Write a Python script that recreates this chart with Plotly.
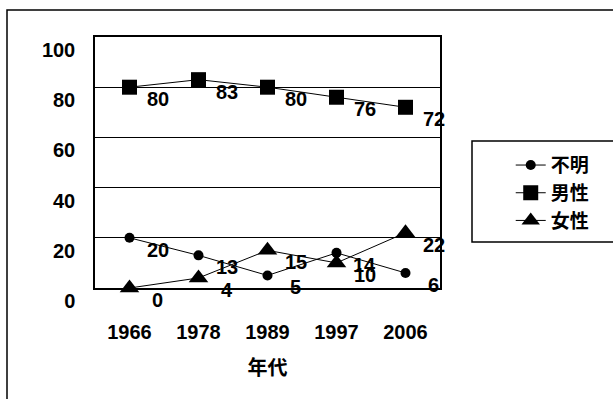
import plotly.graph_objects as go

years = ["1966", "1978", "1989", "1997", "2006"]
unknown = [20, 13, 5, 14, 6]
male = [80, 83, 80, 76, 72]
female = [0, 4, 15, 10, 22]
series_names = ["不明", "男性", "女性"]
y_ticks = [0, 20, 40, 60, 80, 100]

FONT = "Liberation Sans, Arial, Noto Sans CJK JP, sans-serif"
CJK = "Noto Sans CJK JP, sans-serif"

fig = go.Figure()
symbols = ["circle", "square", "triangle-up"]
sizes = [10, 15, 17]
all_series = [unknown, male, female]
for name, vals, sym, sz in zip(series_names, all_series, symbols, sizes):
    fig.add_trace(go.Scatter(
        x=years, y=vals, name=name, mode="lines+markers",
        line=dict(color="black", width=1),
        marker=dict(symbol=sym, size=sz, color="black"),
        cliponaxis=False,
    ))

annotations = []
for vals in all_series:
    for i, v in enumerate(vals):
        annotations.append(dict(
            x=i, y=v, xref="x", yref="y", text=str(v), showarrow=False,
            xshift=28, yshift=-12,
            font=dict(family=FONT, size=20, color="black", weight="bold"),
        ))

fig.update_layout(
    width=613, height=399,
    margin=dict(l=95, r=173, t=37, b=111, autoexpand=False),
    paper_bgcolor="white", plot_bgcolor="white",
    showlegend=True,
    legend=dict(
        x=1.205, y=0.565, xanchor="left", yanchor="top",
        font=dict(family=CJK, size=19, color="black", weight="bold"),
        bgcolor="rgba(0,0,0,0)", borderwidth=0,
        tracegroupgap=0, itemwidth=30,
    ),
    annotations=annotations,
    shapes=[
        dict(type="rect", xref="paper", yref="paper",
             x0=(7 - 95) / 345, x1=2.0, y0=-1.0, y1=(288 - 10) / 251,
             line=dict(color="black", width=1.5), fillcolor="rgba(0,0,0,0)", layer="below"),
        dict(type="rect", xref="paper", yref="paper",
             x0=(472 - 95) / 345, x1=1.6, y0=(288 - 242) / 251, y1=(288 - 141) / 251,
             line=dict(color="black", width=1.5), fillcolor="rgba(0,0,0,0)"),
    ],
    xaxis=dict(
        type="category", range=[-0.5, 4.5], automargin=False,
        showline=True, mirror=True, linecolor="black", linewidth=1.5,
        showgrid=False, ticks="", ticklabelstandoff=25,
        tickfont=dict(family=FONT, size=20, color="black", weight="bold"),
        title=dict(text="年代", standoff=19,
                   font=dict(family=CJK, size=20, color="black", weight="bold")),
    ),
    yaxis=dict(
        range=[0, 100], tickvals=y_ticks, automargin=False,
        showline=True, mirror=True, linecolor="black", linewidth=1.5,
        showgrid=True, gridcolor="black", gridwidth=1, zeroline=False,
        ticks="", ticklabelstandoff=14, ticklabelshift=13,
        tickfont=dict(family=FONT, size=20, color="black", weight="bold"),
    ),
)

fig.write_html("out.html", config={"displayModeBar": False},
               post_script="document.body.style.margin='0';")
